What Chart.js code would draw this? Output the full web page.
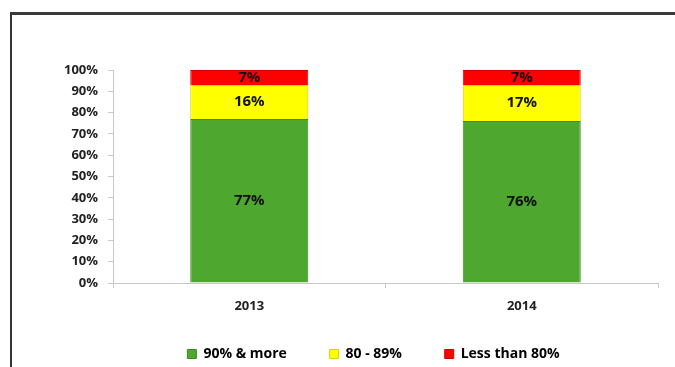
<!DOCTYPE html>
<html>
<head>
<meta charset="utf-8">
<script src="https://cdn.jsdelivr.net/npm/chart.js@4.4.0/dist/chart.umd.min.js"></script>
<style>
  html, body { margin: 0; padding: 0; background: #fff; }
  #wrap { position: relative; width: 675px; height: 367px; overflow: hidden; }
  #frame { position: absolute; left: 10px; top: 12px; width: 700px; height: 400px;
           border-left: 2px solid #333; border-top: 3px solid #3a3a3a; box-sizing: border-box; }
  canvas { position: absolute; left: 0; top: 0; }
</style>
</head>
<body>
<div id="wrap">
  <div id="frame"></div>
  <canvas id="grafico" width="675" height="367"></canvas>
</div>
<script>
// dados do gráfico
const anos = ['2013', '2014'];
const noventaOuMais = [77, 76];
const oitentaA89 = [16, 17];
const menosDe80 = [7, 7];
const nomesSeries = ['90% & more', '80 - 89%', 'Less than 80%'];

const fonte = '"Open Sans", Lato, sans-serif';

// escreve o valor no meio de cada segmento
const rotulos = {
  id: 'rotulos',
  afterDatasetsDraw(chart) {
    const ctx = chart.ctx;
    ctx.save();
    ctx.font = 'bold 15px ' + fonte;
    ctx.fillStyle = '#111';
    ctx.textAlign = 'center';
    ctx.textBaseline = 'middle';
    chart.data.datasets.forEach((ds, i) => {
      chart.getDatasetMeta(i).data.forEach((bar, j) => {
        const meio = (bar.y + bar.base) / 2;
        ctx.fillText(ds.data[j] + '%', bar.x, meio);
      });
    });
    ctx.restore();
  }
};

// centraliza a legenda embaixo da área do gráfico
const moveLegenda = {
  id: 'moveLegenda',
  afterLayout(chart) {
    const lg = chart.legend;
    lg.left = 89;
    lg.right = 658;
    lg.top += 4;
    lg.bottom += 4;
  }
};

const ctx = document.getElementById('grafico');

new Chart(ctx, {
  type: 'bar',
  data: {
    labels: anos,
    datasets: [
      { label: nomesSeries[0], data: noventaOuMais, backgroundColor: '#4ea72e', borderColor: '#3e8a24', borderWidth: 1 },
      { label: nomesSeries[1], data: oitentaA89, backgroundColor: '#ffff00', borderColor: '#d8d800', borderWidth: 1 },
      { label: nomesSeries[2], data: menosDe80, backgroundColor: '#ff0000', borderColor: '#d00000', borderWidth: 1 }
    ]
  },
  options: {
    responsive: false,
    animation: false,
    events: [],
    layout: { padding: { left: 0, right: 17, top: 70, bottom: 0 } },
    datasets: { bar: { categoryPercentage: 1, barPercentage: 0.433 } },
    plugins: {
      tooltip: { enabled: false },
      legend: {
        position: 'bottom',
        labels: {
          boxWidth: 9,
          boxHeight: 9,
          padding: 10,
          color: '#222',
          font: { family: fonte, size: 14, weight: 'bold' },
          generateLabels(chart) {
            const n = chart.data.datasets.length;
            return chart.data.datasets.map((ds, i) => ({
              text: i < n - 1 ? ds.label + '         ' : ds.label,
              fillStyle: ds.backgroundColor,
              strokeStyle: ds.borderColor,
              lineWidth: 1,
              datasetIndex: i
            }));
          }
        }
      }
    },
    scales: {
      x: {
        stacked: true,
        grid: { offset: true, drawOnChartArea: false, drawTicks: true, tickLength: 5, color: '#c8c8c8' },
        border: { color: '#c8c8c8' },
        ticks: { color: '#222', padding: 10, font: { family: fonte, size: 13, weight: 'bold' } },
        afterFit(scale) { scale.height = 50; }
      },
      y: {
        stacked: true,
        min: 0,
        max: 100,
        grid: { drawOnChartArea: false, drawTicks: true, tickLength: 5, color: '#c8c8c8' },
        border: { color: '#c8c8c8' },
        ticks: {
          stepSize: 10,
          autoSkip: false,
          padding: 10,
          color: '#222',
          font: { family: fonte, size: 13, weight: 'bold' },
          callback: (v) => v + '%'
        },
        afterFit(scale) { scale.width = 113; }
      }
    }
  },
  plugins: [rotulos, moveLegenda]
});
</script>
</body>
</html>
